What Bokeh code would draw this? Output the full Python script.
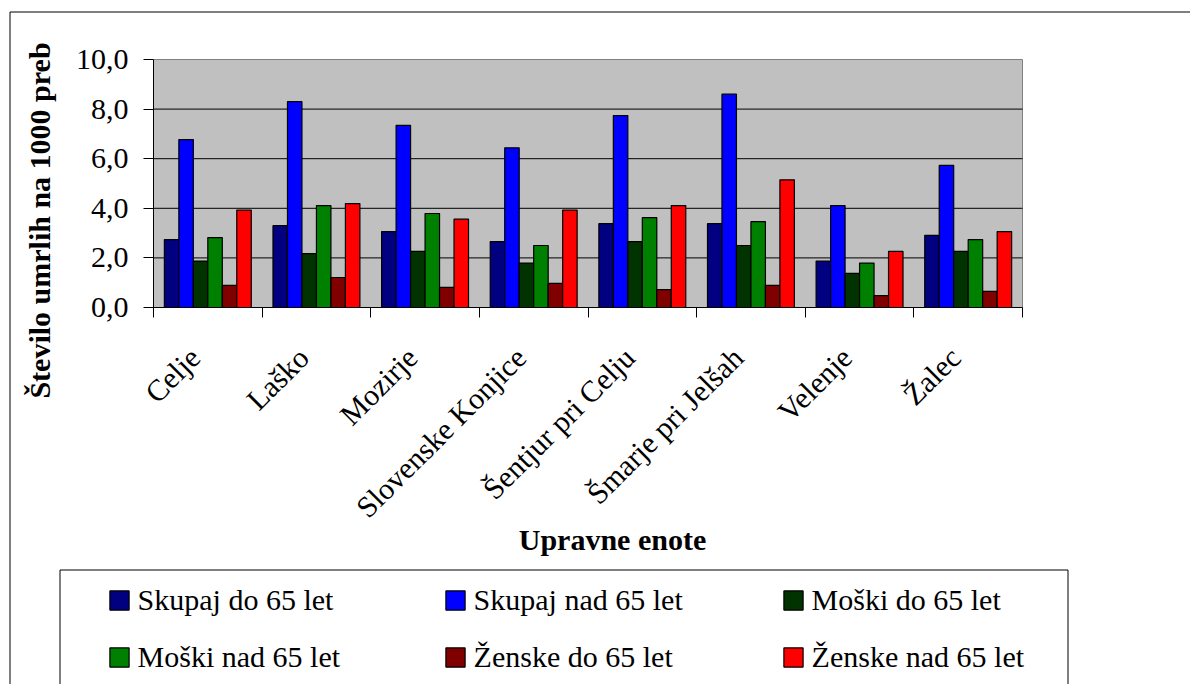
import numpy as np
from math import pi
from bokeh.plotting import figure
from bokeh.models import (Range1d, FixedTicker, ColumnDataSource, LabelSet, Label,
                          BoxAnnotation, Legend, LegendItem)
from bokeh.core.properties import value
from bokeh.embed import file_html
from bokeh.resources import INLINE

# ---------------- data ----------------
categories = ["Celje", "Laško", "Mozirje", "Slovenske Konjice",
              "Šentjur pri Celju", "Šmarje pri Jelšah", "Velenje", "Žalec"]
series_names = ["Skupaj do 65 let", "Skupaj nad 65 let", "Moški do 65 let",
                "Moški nad 65 let", "Ženske do 65 let", "Ženske nad 65 let"]
skupaj_do_65 = [2.74, 3.30, 3.06, 2.66, 3.38, 3.38, 1.87, 2.91]
skupaj_nad_65 = [6.77, 8.30, 7.34, 6.44, 7.74, 8.60, 4.11, 5.73]
moski_do_65 = [1.87, 2.17, 2.26, 1.79, 2.66, 2.50, 1.38, 2.26]
moski_nad_65 = [2.82, 4.11, 3.79, 2.50, 3.62, 3.46, 1.79, 2.74]
zenske_do_65 = [0.89, 1.21, 0.81, 0.97, 0.72, 0.89, 0.48, 0.65]
zenske_nad_65 = [3.93, 4.19, 3.56, 3.93, 4.11, 5.15, 2.26, 3.06]
y_ticks = [0, 2, 4, 6, 8, 10]
y_tick_labels = ["0,0", "2,0", "4,0", "6,0", "8,0", "10,0"]
x_title = "Upravne enote"
y_title = "Število umrlih na 1000 preb"

series = [skupaj_do_65, skupaj_nad_65, moski_do_65, moski_nad_65, zenske_do_65, zenske_nad_65]
colors = ["#000080", "#0000FF", "#003300", "#008000", "#800000", "#FF0000"]
FONT = "Liberation Serif"

# ---------------- layout (pixels in the canvas) ----------------
W, H = 1190, 684
PL, PR, PT, PB = 153, 1022, 59, 307           # plot-area box inside the canvas
ncat = len(categories)
ymin, ymax = y_ticks[0], y_ticks[-1]
xs = (PR - PL) / ncat                         # px per category
ys = (PB - PT) / (ymax - ymin)                # px per unit


def sx(px):   # canvas x (from left)
    return px


def sy(py):   # canvas y from top -> screen y upwards from bottom
    return H - py


p = figure(width=W, height=H, output_backend="svg", toolbar_location=None,
           x_range=Range1d(-PL / xs, (W - PL) / xs),
           y_range=Range1d(ymin - (H - PB) / ys, ymin + PB / ys),
           min_border=0)
p.background_fill_color = "white"
p.border_fill_color = "white"
p.outline_line_color = None
p.xgrid.visible = False
p.ygrid.visible = False

# grey plot area
p.add_layout(BoxAnnotation(left=0, right=ncat, bottom=ymin, top=ymax,
                           fill_color="#C0C0C0", fill_alpha=1,
                           line_color="#808080", line_alpha=1, line_width=1,
                           level="underlay"))

# horizontal gridlines
gy = y_ticks[1:-1]
p.segment(x0=[0] * len(gy), x1=[ncat] * len(gy), y0=gy, y1=gy,
          line_color="black", line_width=1)

# bars
nser = len(series)
w = 1 / 7.5
idx = np.arange(ncat)
renderers = []
for j, (vals, col) in enumerate(zip(series, colors)):
    src = ColumnDataSource(dict(x=idx + 0.5 + (j - (nser - 1) / 2) * w, top=vals))
    r = p.vbar(x="x", top="top", bottom=0, width=w, source=src,
               fill_color=col, line_color="black", line_width=1.2)
    renderers.append(r)

# y axis at x = 0
yax = p.yaxis[0]
yax.fixed_location = 0
yax.bounds = (ymin, ymax)
yax.ticker = FixedTicker(ticks=y_ticks)
yax.major_label_overrides = {t: l for t, l in zip(y_ticks, y_tick_labels)}
yax.axis_line_color = "black"
yax.major_tick_line_color = "black"
yax.major_tick_out = 10
yax.major_tick_in = 0
yax.minor_tick_line_color = None
yax.major_label_text_font = FONT
yax.major_label_text_font_size = "30px"
yax.major_label_text_color = "black"
yax.major_label_standoff = 15

# x axis at y = 0, ticks at category boundaries
bounds = list(range(ncat + 1))
xax = p.xaxis[0]
xax.fixed_location = 0
xax.bounds = (0, ncat)
xax.ticker = FixedTicker(ticks=bounds)
xax.major_label_overrides = {b: "" for b in bounds}
xax.axis_line_color = "black"
xax.major_tick_line_color = "black"
xax.major_tick_out = 10
xax.major_tick_in = 0
xax.minor_tick_line_color = None

# category labels (rotated 45 degrees)
lab_src = ColumnDataSource(dict(x=idx + 0.5, y=np.zeros(ncat), text=categories))
p.add_layout(LabelSet(x="x", y="y", text="text", source=lab_src, angle=pi / 4,
                      x_offset=-13, y_offset=-45, text_align="right",
                      text_baseline="middle", text_font=value(FONT),
                      text_font_size="30px", text_color="black"))

# outer chart frame (continues past the right and bottom edges)
p.add_layout(BoxAnnotation(left=sx(9.5), right=sx(1400), top=sy(11.5), bottom=sy(900),
                           left_units="screen", right_units="screen",
                           top_units="screen", bottom_units="screen",
                           fill_alpha=0, line_color="black", line_alpha=1,
                           line_width=1))

# axis titles
p.add_layout(Label(x=sx(39), y=sy(220), x_units="screen", y_units="screen",
                   text=y_title, angle=pi / 2, text_align="center",
                   text_baseline="middle", text_font=FONT, text_font_style="bold",
                   text_font_size="30px", text_color="black"))
p.add_layout(Label(x=sx(612), y=sy(539), x_units="screen", y_units="screen",
                   text=x_title, text_align="center", text_baseline="middle",
                   text_font=FONT, text_font_style="bold", text_font_size="30px",
                   text_color="black"))

# legend box
p.add_layout(BoxAnnotation(left=sx(59.5), right=sx(1067.5), top=sy(569.5), bottom=sy(900),
                           left_units="screen", right_units="screen",
                           top_units="screen", bottom_units="screen",
                           fill_color="white", fill_alpha=1,
                           line_color="black", line_alpha=1, line_width=1))

# legends (3 columns of 2 rows)
groups = [[0, 3], [1, 4], [2, 5]]
legend_left = [106.6, 442.6, 780.6]
for gx, grp in zip(legend_left, groups):
    items = [LegendItem(label=series_names[k], renderers=[renderers[k]]) for k in grp]
    lg = Legend(items=items, location=(sx(gx), sy(675)), orientation="vertical",
                padding=0, margin=0, spacing=21,
                glyph_width=24, glyph_height=24, label_height=36, label_standoff=7,
                label_text_font=FONT, label_text_font_size="30px",
                label_text_color="black",
                border_line_alpha=0, background_fill_alpha=0)
    p.add_layout(lg)

open("out.html", "w").write(file_html(p, INLINE))
